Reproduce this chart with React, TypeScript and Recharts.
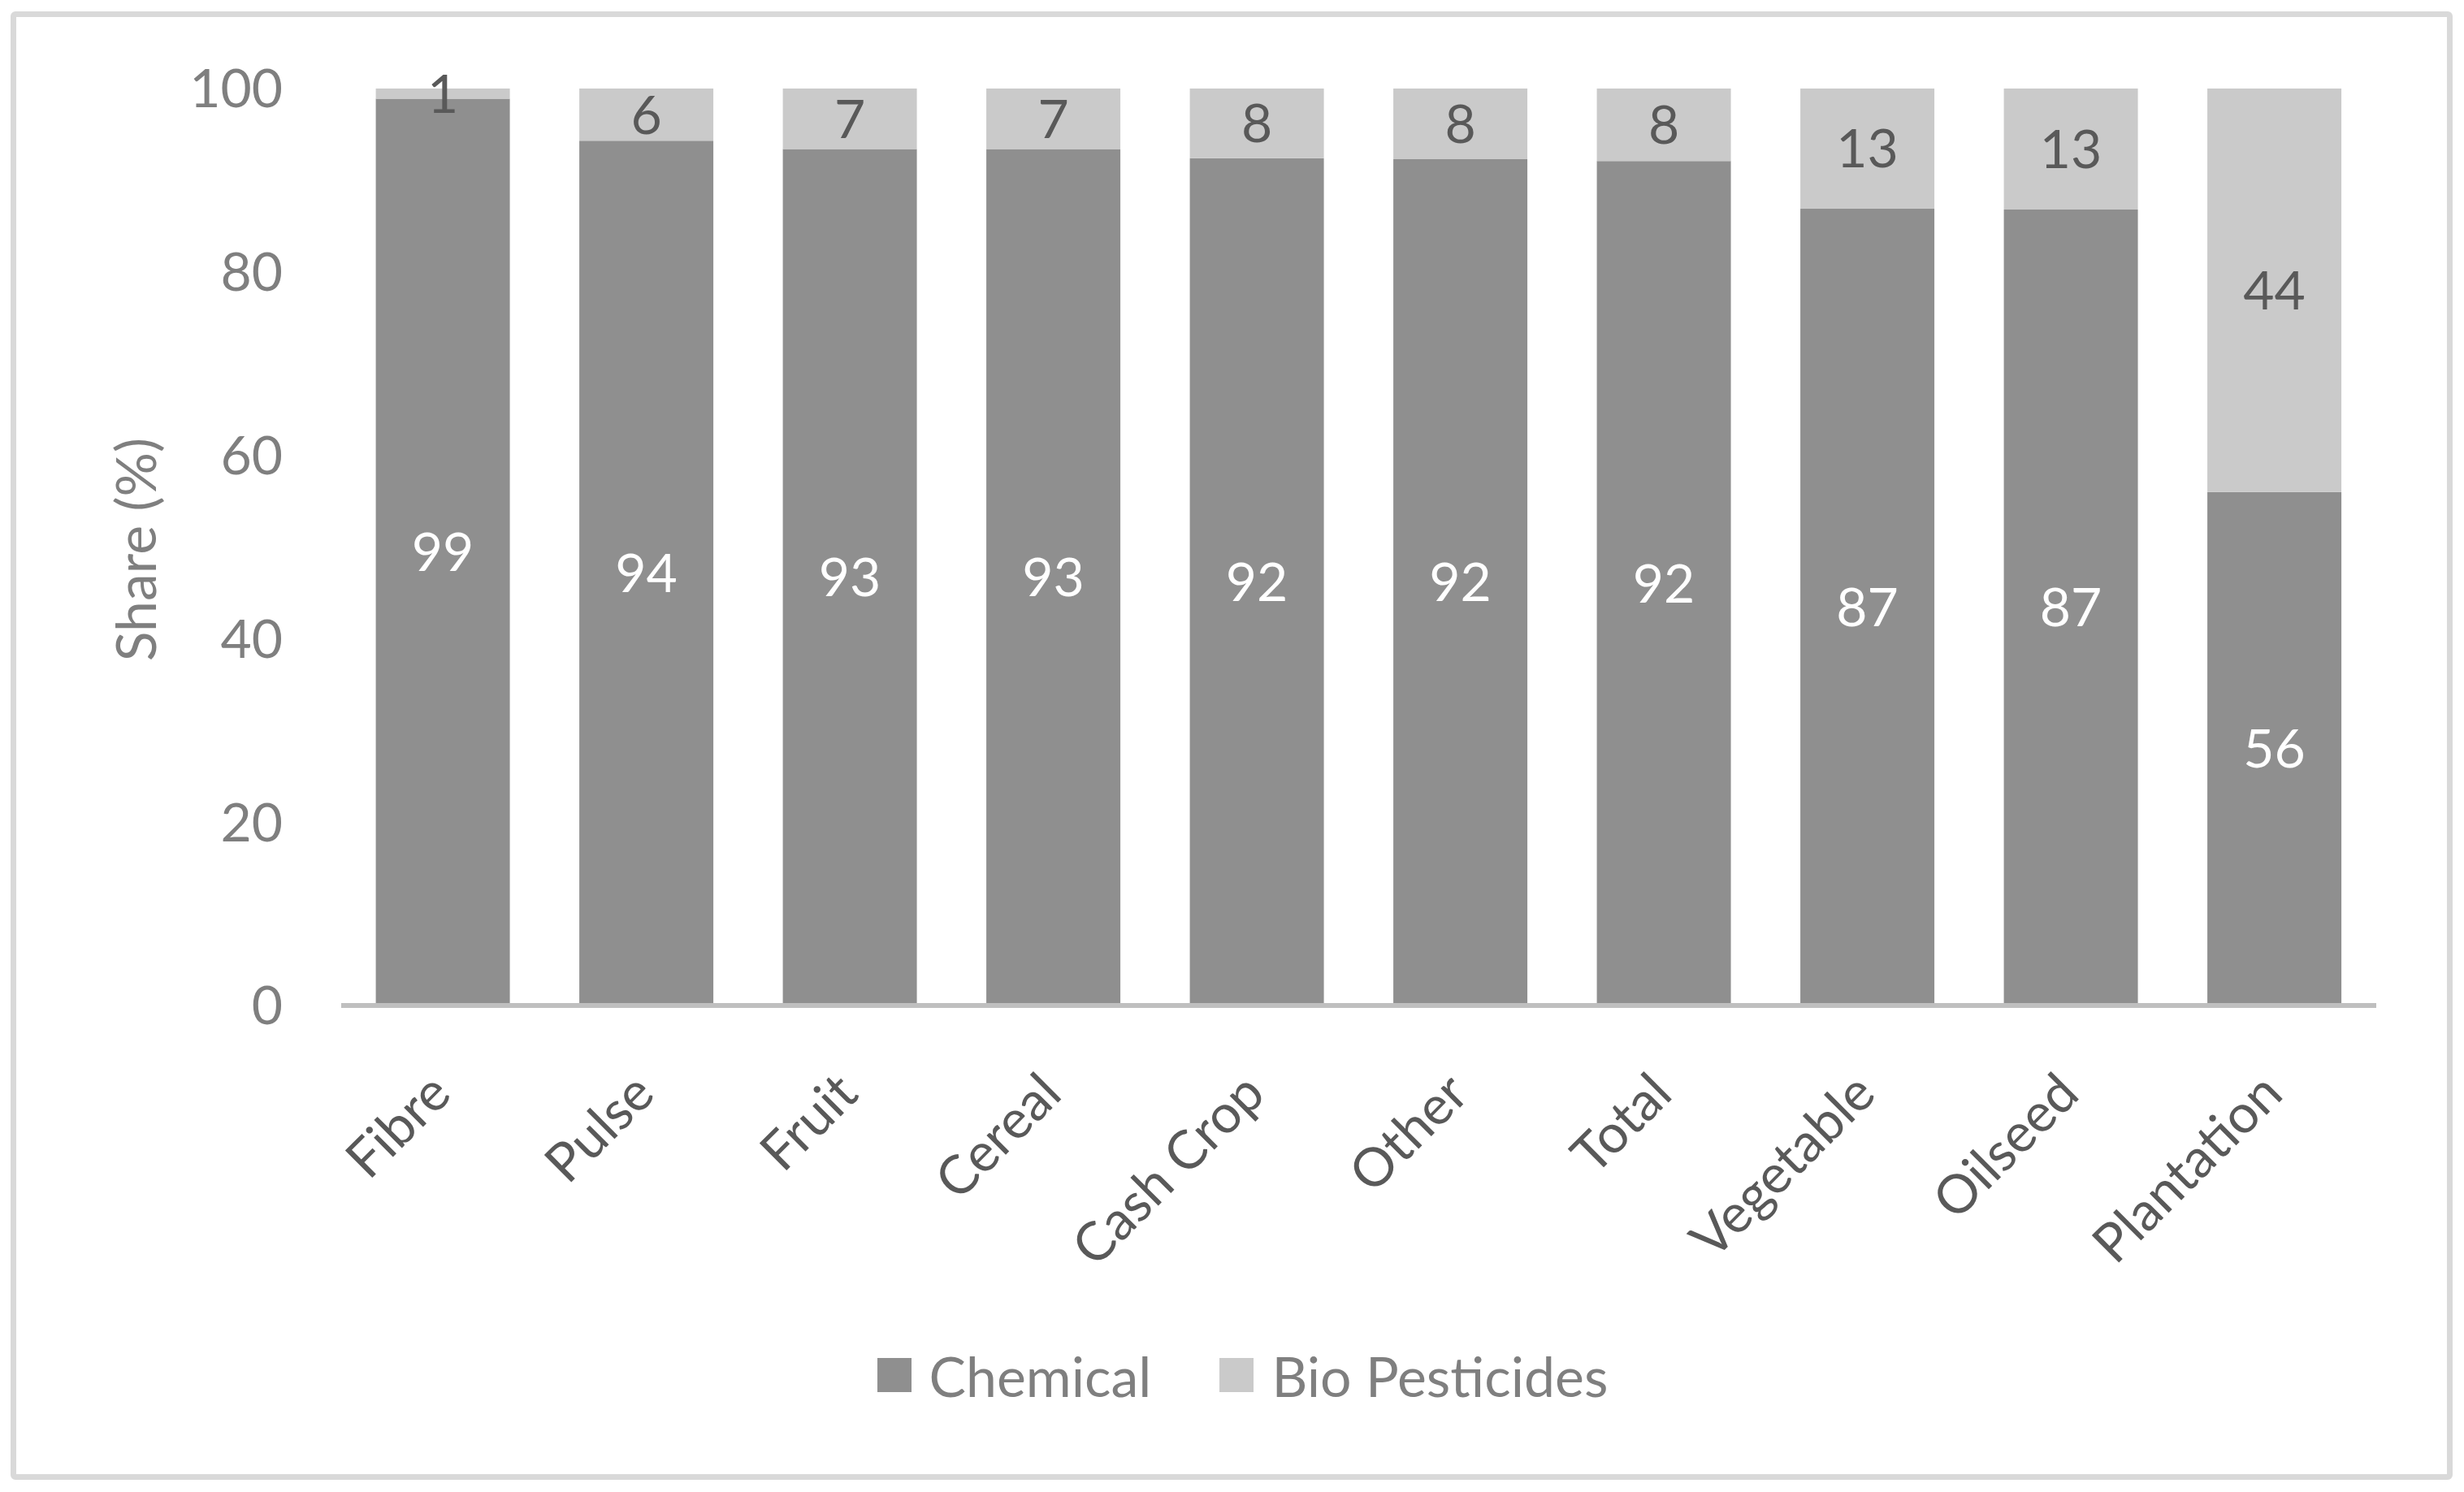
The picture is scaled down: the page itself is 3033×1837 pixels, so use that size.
import { BarChart, Bar, XAxis, YAxis, Legend, LabelList } from "recharts";

const categories = [
  "Fibre",
  "Pulse",
  "Fruit",
  "Cereal",
  "Cash Crop",
  "Other",
  "Total",
  "Vegetable",
  "Oilseed",
  "Plantation",
];
const chemical = [98.9, 94.3, 93.4, 93.4, 92.4, 92.3, 92.1, 86.9, 86.8, 56.0];
const bioPesticides = [1.1, 5.7, 6.6, 6.6, 7.6, 7.7, 7.9, 13.1, 13.2, 44.0];
const yTicks = [0, 20, 40, 60, 80, 100];

const data = categories.map((name, i) => ({
  name,
  chemical: chemical[i],
  bio: bioPesticides[i],
}));

const CHEM = "#8f8f8f";
const BIO = "#cacaca";
const FONT = "Lato, 'Open Sans', sans-serif";

const XTick = (props: any) => {
  const { x, y, payload } = props;
  const px = x + 13;
  const py = y + 112;
  return (
    <text
      x={px}
      y={py}
      textAnchor="end"
      fill="#595959"
      fontSize={66}
      transform={`rotate(-45, ${px}, ${py})`}
    >
      {payload.value}
    </text>
  );
};

const YLabel = (props: any) => {
  const { viewBox } = props;
  const cx = viewBox.x + 192;
  const cy = viewBox.y + viewBox.height / 2 + 3;
  return (
    <text
      x={cx}
      y={cy}
      textAnchor="middle"
      fill="#7f7f7f"
      fontSize={68}
      transform={`rotate(-90, ${cx}, ${cy})`}
    >
      Share (%)
    </text>
  );
};

const LegendContent = () => {
  const items = [
    { label: "Chemical", color: CHEM },
    { label: "Bio Pesticides", color: BIO },
  ];
  return (
    <div
      style={{
        display: "flex",
        justifyContent: "center",
        alignItems: "center",
        height: 100,
        paddingLeft: 26,
        fontFamily: FONT,
        fontSize: 68,
        color: "#7f7f7f",
      }}
    >
      {items.map((it, i) => (
        <div
          key={it.label}
          style={{ display: "flex", alignItems: "center", marginLeft: i ? 84 : 0 }}
        >
          <div style={{ width: 42, height: 42, background: it.color, marginRight: 22 }} />
          <span>{it.label}</span>
        </div>
      ))}
    </div>
  );
};

export default function App() {
  return (
    <div
      style={{
        position: "absolute",
        left: 0,
        top: 0,
        width: 3033,
        height: 1837,
        background: "#fff",
        fontFamily: FONT,
      }}
    >
      <div
        style={{
          position: "absolute",
          left: 13,
          top: 14,
          width: 3006,
          height: 1808,
          boxSizing: "border-box",
          border: "7px solid #d9d9d9",
          borderRadius: 6,
        }}
      />
      <div style={{ position: "absolute", left: 0, top: 0 }}>
        <BarChart
          width={3033}
          height={1837}
          data={data}
          barCategoryGap="17%"
          margin={{ top: 109, right: 108, left: 0, bottom: 199 }}
        >
          <XAxis
            dataKey="name"
            interval={0}
            height={300}
            tickLine={false}
            tickSize={0}
            tickMargin={0}
            axisLine={{ stroke: "#bfbfbf", strokeWidth: 6 }}
            tick={<XTick />}
          />
          <YAxis
            width={420}
            domain={[0, 100]}
            ticks={yTicks}
            allowDataOverflow
            axisLine={false}
            tickLine={false}
            tickSize={0}
            tickMargin={72}
            tick={{ fill: "#7f7f7f", fontSize: 66 }}
            label={<YLabel />}
          />
          <Legend
            verticalAlign="bottom"
            content={<LegendContent />}
            wrapperStyle={{ left: 0, width: 3033, bottom: 94 }}
          />
          <Bar dataKey="chemical" name="Chemical" stackId="a" fill={CHEM} isAnimationActive={false}>
            <LabelList
              dataKey="chemical"
              position="center"
              fill="#ffffff"
              fontSize={66}
              formatter={(v: any) => Math.round(Number(v))}
            />
          </Bar>
          <Bar dataKey="bio" name="Bio Pesticides" stackId="a" fill={BIO} isAnimationActive={false}>
            <LabelList
              dataKey="bio"
              position="center"
              fill="#595959"
              fontSize={66}
              formatter={(v: any) => Math.round(Number(v))}
            />
          </Bar>
        </BarChart>
      </div>
    </div>
  );
}
